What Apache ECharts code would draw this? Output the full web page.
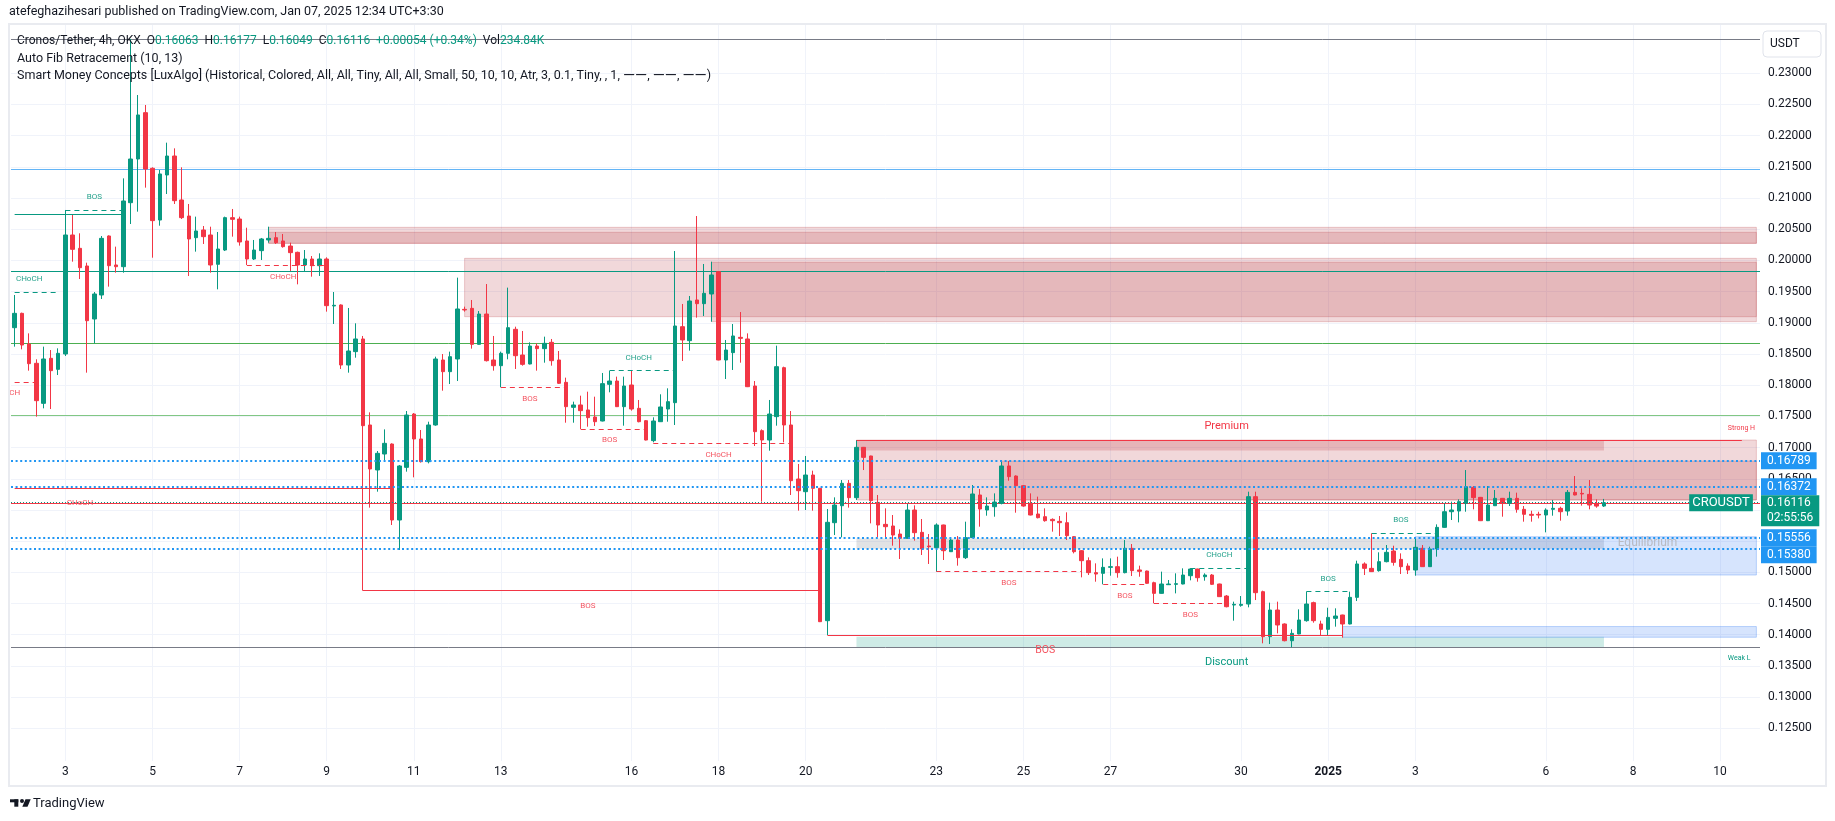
<!DOCTYPE html>
<html><head><meta charset="utf-8">
<script src="https://cdn.jsdelivr.net/npm/echarts@6/dist/echarts.min.js"></script>
<style>html,body{margin:0;padding:0;background:#fff}#c{width:1835px;height:821px}</style>
</head><body><div id="c"></div>
<script>
// ---------- DATA ----------
const open = [0.18922,0.19152,0.18660,0.18351,0.17709,0.18431,0.18254,0.18500,0.20408,0.20194,0.19911,0.19061,0.19446,0.20392,0.19927,0.19900,0.20926,0.21626,0.22369,0.21477,0.20648,0.21370,0.21674,0.20969,0.20712,0.20365,0.20488,0.20408,0.19938,0.20167,0.20686,0.20664,0.20312,0.20023,0.20157,0.20328,0.20365,0.20312,0.20231,0.20130,0.19927,0.20023,0.19916,0.20023,0.19270,0.19286,0.18324,0.18538,0.18741,0.17362,0.16641,0.16897,0.17057,0.15839,0.16683,0.17538,0.17138,0.16774,0.17362,0.18404,0.18217,0.18420,0.19216,0.19232,0.18655,0.19141,0.18404,0.18313,0.18511,0.18896,0.18484,0.18340,0.18628,0.18586,0.18687,0.18404,0.18046,0.17645,0.17683,0.17603,0.17490,0.17426,0.18014,0.18067,0.17656,0.18003,0.17629,0.17431,0.17111,0.17415,0.17618,0.17720,0.18938,0.18714,0.19366,0.19307,0.19462,0.19820,0.18404,0.18522,0.18767,0.18741,0.17987,0.17271,0.17121,0.17496,0.18281,0.17362,0.16496,0.16293,0.16560,0.16347,0.14225,0.15796,0.16068,0.16427,0.16197,0.17004,0.16865,0.16122,0.15769,0.15743,0.15614,0.15545,0.15999,0.15641,0.15422,0.15395,0.15759,0.15331,0.15518,0.15235,0.15556,0.16240,0.15999,0.16052,0.16106,0.16705,0.16544,0.16389,0.16106,0.15935,0.15892,0.15849,0.15817,0.15796,0.15572,0.15347,0.15187,0.14995,0.14984,0.15080,0.15091,0.14995,0.15385,0.15038,0.15021,0.14834,0.14663,0.14802,0.14808,0.14813,0.14946,0.15053,0.14930,0.14957,0.14813,0.14620,0.14476,0.14471,0.14492,0.16213,0.14690,0.13969,0.14396,0.14172,0.13904,0.14012,0.14225,0.14514,0.14172,0.14086,0.14262,0.14316,0.14172,0.14599,0.15134,0.15064,0.15027,0.15171,0.15342,0.15208,0.15101,0.15037,0.15385,0.15091,0.15374,0.15721,0.15972,0.15983,0.16106,0.16362,0.16202,0.15828,0.16068,0.16186,0.16106,0.16186,0.16010,0.15930,0.15930,0.15919,0.16010,0.16026,0.15983,0.16282,0.16266,0.16250,0.16095,0.16063];
const high = [0.19446,0.19163,0.18831,0.18415,0.18618,0.18564,0.18591,0.20809,0.20739,0.20435,0.19964,0.19494,0.20392,0.20402,0.20221,0.21316,0.23550,0.22652,0.22492,0.21493,0.21450,0.21888,0.21797,0.21493,0.20905,0.20702,0.20552,0.20541,0.20456,0.20702,0.20825,0.20702,0.20525,0.20328,0.20360,0.20541,0.20456,0.20424,0.20285,0.20141,0.20167,0.20071,0.20114,0.20050,0.19494,0.19296,0.19238,0.18992,0.18789,0.17565,0.16945,0.17292,0.17068,0.16720,0.17586,0.17554,0.17282,0.17415,0.18457,0.18500,0.18538,0.19724,0.19259,0.19366,0.19189,0.19622,0.18789,0.18538,0.19564,0.18938,0.18869,0.18687,0.18671,0.18778,0.18741,0.18548,0.18121,0.17736,0.17832,0.17896,0.17816,0.18196,0.18233,0.18137,0.18137,0.18233,0.17763,0.17442,0.17485,0.17854,0.17950,0.20151,0.19302,0.19430,0.20712,0.19943,0.19980,0.19825,0.18725,0.18981,0.19173,0.18831,0.18067,0.17292,0.17763,0.18634,0.18297,0.17586,0.16737,0.16865,0.16630,0.16352,0.16015,0.16202,0.16480,0.16480,0.17121,0.17010,0.16870,0.16240,0.16026,0.15919,0.15689,0.16095,0.16074,0.15855,0.15614,0.15785,0.15764,0.15545,0.15582,0.15812,0.16400,0.16336,0.16202,0.16266,0.16790,0.16785,0.16555,0.16400,0.16266,0.16213,0.16026,0.15865,0.15903,0.15962,0.15582,0.15358,0.15240,0.15144,0.15224,0.15224,0.15251,0.15518,0.15454,0.15107,0.15027,0.14850,0.15011,0.14877,0.14984,0.15064,0.15064,0.15058,0.14984,0.14973,0.14818,0.14636,0.14530,0.14620,0.16293,0.16293,0.14706,0.14514,0.14530,0.14182,0.14086,0.14407,0.14690,0.14530,0.14225,0.14433,0.14423,0.14321,0.14690,0.15187,0.15160,0.15625,0.15321,0.15438,0.15427,0.15304,0.15144,0.15561,0.15438,0.15411,0.15769,0.16106,0.16133,0.16170,0.16640,0.16384,0.16208,0.16384,0.16320,0.16192,0.16293,0.16277,0.16063,0.15988,0.15972,0.16026,0.16160,0.16052,0.16320,0.16544,0.16346,0.16480,0.16170,0.16177];
const low = [0.18618,0.18575,0.18233,0.17496,0.17629,0.17618,0.18163,0.18468,0.19980,0.19702,0.18201,0.18671,0.19382,0.19580,0.19804,0.19804,0.20584,0.20782,0.21167,0.20044,0.20557,0.21065,0.20905,0.20664,0.19751,0.20141,0.20264,0.19804,0.19537,0.20151,0.20381,0.20237,0.19927,0.20007,0.20007,0.20285,0.20264,0.20205,0.19831,0.19617,0.19831,0.19740,0.19751,0.19179,0.18981,0.18260,0.18201,0.18441,0.14706,0.16037,0.16293,0.16774,0.15759,0.15358,0.16614,0.16523,0.16760,0.16747,0.17350,0.17912,0.18019,0.18067,0.19179,0.18586,0.18650,0.18380,0.18233,0.17966,0.18415,0.18260,0.18313,0.18334,0.18233,0.18361,0.18313,0.18019,0.17399,0.17399,0.17298,0.17335,0.17346,0.17420,0.17886,0.17650,0.17351,0.17592,0.17405,0.17115,0.17084,0.17410,0.17415,0.17362,0.18388,0.18554,0.19083,0.19109,0.19018,0.18399,0.18099,0.18244,0.18361,0.17970,0.17025,0.16133,0.16950,0.17351,0.17084,0.16240,0.15989,0.15999,0.15989,0.14203,0.13995,0.15598,0.15561,0.16037,0.16160,0.16640,0.15785,0.15561,0.15545,0.15427,0.15214,0.15540,0.15508,0.15278,0.15134,0.15011,0.15198,0.15326,0.15107,0.15214,0.15550,0.15732,0.15908,0.15892,0.16090,0.16469,0.15956,0.16052,0.15913,0.15865,0.15812,0.15652,0.15582,0.15518,0.15304,0.14920,0.14957,0.14850,0.14808,0.14946,0.14914,0.14984,0.14941,0.14930,0.14813,0.14503,0.14658,0.14797,0.14663,0.14808,0.14872,0.14850,0.14866,0.14797,0.14605,0.14439,0.14225,0.14449,0.14439,0.14556,0.13862,0.13851,0.14022,0.13894,0.13798,0.14007,0.14209,0.14193,0.13995,0.13995,0.14129,0.13953,0.14166,0.14540,0.14957,0.15005,0.15011,0.15160,0.15107,0.14973,0.14973,0.14946,0.15086,0.15086,0.15251,0.15716,0.15839,0.15801,0.15972,0.16010,0.15822,0.15822,0.16063,0.15892,0.16063,0.15956,0.15812,0.15812,0.15865,0.15641,0.15908,0.15828,0.15908,0.16234,0.16069,0.16010,0.16036,0.16049];
const close = [0.19152,0.18644,0.18345,0.17752,0.18420,0.18233,0.18511,0.20408,0.20178,0.19884,0.19034,0.19462,0.20354,0.19916,0.19900,0.20953,0.21626,0.22332,0.21466,0.20638,0.21386,0.21674,0.20958,0.20686,0.20344,0.20472,0.20381,0.19927,0.20183,0.20686,0.20659,0.20296,0.20023,0.20167,0.20344,0.20354,0.20285,0.20221,0.20125,0.19927,0.20023,0.19916,0.20023,0.19275,0.19281,0.18324,0.18548,0.18741,0.17351,0.16657,0.16908,0.17068,0.15839,0.16705,0.17522,0.17138,0.16774,0.17362,0.18420,0.18217,0.18457,0.19222,0.19206,0.18655,0.19141,0.18393,0.18313,0.18511,0.18922,0.18473,0.18334,0.18628,0.18586,0.18671,0.18393,0.18030,0.17656,0.17683,0.17592,0.17480,0.17415,0.18025,0.18067,0.17656,0.17987,0.17618,0.17415,0.17121,0.17426,0.17651,0.17736,0.18949,0.18725,0.19350,0.19307,0.19473,0.19767,0.18404,0.18564,0.18789,0.18751,0.17976,0.17255,0.17121,0.17538,0.18297,0.17362,0.16469,0.16309,0.16560,0.16347,0.14209,0.15802,0.16079,0.16427,0.16197,0.17004,0.16843,0.16149,0.15759,0.15732,0.15598,0.15545,0.15999,0.15636,0.15374,0.15411,0.15759,0.15347,0.15518,0.15235,0.15556,0.16256,0.16015,0.16063,0.16127,0.16705,0.16534,0.16389,0.16063,0.15919,0.15876,0.15828,0.15828,0.15796,0.15588,0.15331,0.15187,0.14995,0.14973,0.15080,0.15091,0.14995,0.15385,0.15027,0.15016,0.14824,0.14663,0.14813,0.14813,0.14818,0.14957,0.15053,0.14914,0.14957,0.14808,0.14610,0.14449,0.14487,0.14487,0.16213,0.14674,0.13969,0.14396,0.14156,0.13904,0.14022,0.14236,0.14492,0.14225,0.14086,0.14278,0.14300,0.14172,0.14599,0.15134,0.15064,0.15011,0.15171,0.15321,0.15160,0.15091,0.15037,0.15401,0.15091,0.15374,0.15721,0.15972,0.15999,0.16133,0.16373,0.16197,0.15828,0.16079,0.16186,0.16106,0.16186,0.16010,0.15930,0.15914,0.15919,0.15999,0.16026,0.15972,0.16282,0.16240,0.16256,0.16079,0.16062,0.16116];
const lastVolume = '234.84K';

// time axis: 4h slots, first slot Dec 1 2024 20:00
const slotCount = 241;
const tickDates  = ['2024-12-03','2024-12-05','2024-12-07','2024-12-09','2024-12-11','2024-12-13','2024-12-16','2024-12-18','2024-12-20','2024-12-23','2024-12-25','2024-12-27','2024-12-30','2025-01-01','2025-01-03','2025-01-06','2025-01-08','2025-01-10'];
const tickLabels = ['3','5','7','9','11','13','16','18','20','23','25','27','30','2025','3','6','8','10'];
const yTicks = [0.125,0.130,0.135,0.140,0.145,0.150,0.155,0.160,0.165,0.170,0.175,0.180,0.185,0.190,0.195,0.200,0.205,0.210,0.215,0.220,0.225,0.230];
const Y_MIN = 0.119756, Y_MAX = 0.237903;

// Auto Fib Retracement
const fibLow = 0.1380, fibHigh = 0.2355;
const fibRatios = [0, 0.236, 0.382, 0.5, 0.618, 0.786, 1];
const fibColors = ['#787b86','#f23645','#81c784','#4caf50','#089981','#64b5f6','#787b86'];

// horizontal rays (blue dotted)
const rayPrices = [0.16789, 0.16372, 0.15556, 0.15380];

// SMC structure lines: [fromSlot, toSlot, price, side, style]
const structLines = [
  [7,15,0.20809,'bull','dash'],[0,15,0.20739,'bull','solid'],[0,6,0.19494,'bull','dash'],[0,3,0.18046,'bear','dash'],
  [32,43,0.19927,'bear','dash'],[0,52,0.16355,'bear','solid'],[67,76,0.17966,'bear','dash'],[78,87,0.17292,'bear','dash'],
  [82,91,0.18238,'bull','dash'],[88,107,0.17068,'bear','dash'],[48,111,0.14706,'bear','solid'],[127,147,0.15016,'bear','dash'],
  [150,156,0.14813,'bear','dash'],[157,167,0.14503,'bear','dash'],[162,170,0.15064,'bull','dash'],[112,183,0.13996,'bear','solid'],
  [178,184,0.14690,'bull','dash'],[187,196,0.15625,'bull','dash'],[116,238,0.17121,'bear','solid']
];
// structure labels: [slot, price, text, side, size]
const structLabels = [
  [11,0.21012,'BOS','bull','s'],[2,0.19698,'CHoCH','bull','s'],[0,0.17870,'CH','bear','s'],[37,0.19730,'CHoCH','bear','s'],
  [9,0.16109,'CHoCH','bear','s'],[71,0.17774,'BOS','bear','s'],[82,0.17117,'BOS','bear','s'],[86,0.18431,'CHoCH','bull','s'],
  [97,0.16876,'CHoCH','bear','s'],[79,0.14457,'BOS','bear','s'],[137,0.14824,'BOS','bear','s'],[153,0.14616,'BOS','bear','s'],
  [162,0.14311,'BOS','bear','s'],[166,0.15273,'CHoCH','bull','s'],[142,0.13744,'BOS','bear','m'],[181,0.14888,'BOS','bull','s'],
  [191,0.15833,'BOS','bull','s']
];
// zones: [fromSlot, toSlot, top, bottom, kind]
const zones = [
  [35,240,0.20531,0.20274,'bearOb'],[35,240,0.20451,0.20274,'bearOb'],
  [62,240,0.20034,0.19098,'bearOb'],[96,240,0.19970,0.19018,'bearOb'],
  [116,240,0.17121,0.16160,'bearOb'],[136,240,0.16785,0.16160,'bearOb'],
  [116,219,0.17121,0.16954,'premium'],[116,219,0.15543,0.15377,'equilibrium'],[116,219,0.13966,0.13800,'discount'],
  [193,240,0.15571,0.14957,'bullOb'],[183,240,0.14131,0.13959,'bullOb']
];
// zone labels: [slot, price, text, kind]
const zoneLabels = [
  [167,0.17346,'Premium','premium'],[225,0.15470,'Equilibrium','equilibrium'],[167,0.13556,'Discount','discount'],
  [236,0.17309,'Strong H','strongHigh'],[236,0.13622,'Weak L','weakLow']
];

// ---------- BUILD ----------
const FONT = 'Roboto, "Noto Sans", Arial, sans-serif';
const UP = '#089981', DOWN = '#f23645';
const pad = n => String(n).padStart(2,'0');
const categories = [];
const t0 = Date.UTC(2024, 11, 1, 20, 0);
for (let i = 0; i < slotCount; i++) {
  const d = new Date(t0 + i * 4 * 3600 * 1000);
  categories.push(d.getUTCFullYear() + '-' + pad(d.getUTCMonth()+1) + '-' + pad(d.getUTCDate()) + ' ' + pad(d.getUTCHours()) + ':00');
}
const tickMap = new Map();
tickDates.forEach((d, i) => tickMap.set(d + ' 00:00', tickLabels[i]));

const candleData = open.map((o, i) => [o, close[i], low[i], high[i]]);
const last = open.length - 1;
const lastPrice = close[last];

const sideColor = {bull: UP, bear: DOWN};
const labelColor = {bull: '#26a28c', bear: '#f45561'};
const zoneStyle = {
  bearOb: {color: 'rgba(178,40,51,0.18)', borderColor: 'rgba(178,40,51,0.22)', borderWidth: 1},
  premium: {color: 'rgba(190,40,51,0.2)', borderWidth: 0},
  equilibrium: {color: 'rgba(120,123,134,0.22)', borderWidth: 0},
  discount: {color: 'rgba(8,153,129,0.2)', borderWidth: 0},
  bullOb: {color: 'rgba(49,121,245,0.2)', borderColor: 'rgba(49,121,245,0.3)', borderWidth: 1}
};
const zoneLabelStyle = {
  premium: {color: '#f23645', fontSize: 11, pos: 'inside'},
  equilibrium: {color: '#b8bac2', fontSize: 12, pos: 'inside'},
  discount: {color: '#089981', fontSize: 11, pos: 'inside'},
  strongHigh: {color: '#f23645', fontSize: 7, pos: 'right'},
  weakLow: {color: '#089981', fontSize: 7, pos: 'right'}
};

const gridLines = [];
tickDates.forEach(d => gridLines.push({xAxis: d + ' 00:00'}));
yTicks.forEach(v => gridLines.push({yAxis: v, label: {show: true, position: 'end', distance: 8, formatter: v.toFixed(5), color: '#131722', fontSize: 12, fontFamily: FONT}}));

const fibLines = fibRatios.map((r, i) => ({yAxis: fibLow + r * (fibHigh - fibLow), lineStyle: {color: fibColors[i], width: 1, type: 'solid'}}));

const structData = structLines.map(s => [
  {xAxis: s[0], yAxis: s[2], lineStyle: {color: sideColor[s[3]], width: 1, type: s[4] === 'dash' ? [5, 4] : 'solid'}},
  {xAxis: s[1], yAxis: s[2]}
]);

const hidden = {color: 'rgba(0,0,0,0)'};
const labelPoints = structLabels.map(l => ({
  coord: [l[0], l[1]], symbol: 'circle', symbolSize: 1, itemStyle: hidden,
  label: {show: true, position: 'inside', formatter: l[2], color: labelColor[l[3]], fontSize: l[4] === 'm' ? 10.5 : 8, fontFamily: FONT}
})).concat(zoneLabels.map(l => {
  const st = zoneLabelStyle[l[3]];
  return {coord: [l[0], l[1]], symbol: 'circle', symbolSize: 1, itemStyle: hidden,
    label: {show: true, position: st.pos, distance: 0, formatter: l[2], color: st.color, fontSize: st.fontSize, fontFamily: FONT}};
}));

const zoneData = zones.map(z => [
  {xAxis: z[0], yAxis: z[2], itemStyle: zoneStyle[z[4]]},
  {xAxis: z[1], yAxis: z[3]}
]);

const boxLabel = (txt, bg, extra) => Object.assign({
  show: true, position: 'end', distance: 1, formatter: txt, color: '#ffffff', backgroundColor: bg,
  fontSize: 12, fontFamily: FONT, padding: [2, 6, 1, 6], lineHeight: 14
}, extra || {});
const rayData = rayPrices.map((p, i) => ({
  yAxis: p, lineStyle: {color: '#2196f3', width: 2, type: [2, 2.6]},
  label: boxLabel(p.toFixed(5), '#2196f3', i === 3 ? {offset: [0, 6]} : {})
}));
rayData.push({
  yAxis: lastPrice, lineStyle: {color: UP, width: 1, type: [1, 2]},
  label: boxLabel(lastPrice.toFixed(5) + '\n02:55:56', UP, {lineHeight: 15, padding: [1, 6, 0, 6], offset: [0, 8]})
});

const ML = (z, data, extra) => Object.assign({silent: true, z: z, precision: 10, symbol: ['none', 'none'], animation: false, label: {show: false}, emphasis: {disabled: true}, data: data}, extra || {});

const chart = echarts.init(document.getElementById('c'), null, {renderer: 'canvas'});
const lg = (k, v) => `{d|${k}}{v|${v}}`;
const chg = close[last] - close[last - 1];
const legendText = `{d|Cronos/Tether, 4h, OKX}  ${lg('O', open[last].toFixed(5))}  ${lg('H', high[last].toFixed(5))}  ${lg('L', low[last].toFixed(5))}  ${lg('C', close[last].toFixed(5))}  {v|${(chg >= 0 ? '+' : '') + chg.toFixed(5)} (${(chg >= 0 ? '+' : '') + (chg / close[last - 1] * 100).toFixed(2)}%)}  ${lg('Vol', lastVolume)}`;
const DASH = '{w|\u2014\u2014}';

chart.setOption({
  animation: false,
  backgroundColor: '#ffffff',
  grid: {left: 11, right: 75, top: 24, bottom: 60, containLabel: false},
  xAxis: {
    type: 'category', data: categories, boundaryGap: true,
    axisLine: {show: false}, axisTick: {show: false}, splitLine: {show: false},
    axisLabel: {
      interval: (i, v) => tickMap.has(v),
      formatter: v => { const t = tickMap.get(v) || ''; return t === '2025' ? '{y|2025}' : t; },
      color: '#131722', fontSize: 12, margin: 5, fontFamily: FONT,
      rich: {y: {fontWeight: 'bold', fontSize: 12, color: '#131722', fontFamily: FONT}}
    }
  },
  yAxis: {
    type: 'value', min: Y_MIN, max: Y_MAX, position: 'right',
    axisLine: {show: false}, axisTick: {show: false}, axisLabel: {show: false}, splitLine: {show: false}
  },
  series: [
    {type: 'line', data: [], z: 0, silent: true,
      markLine: ML(0, gridLines, {lineStyle: {color: '#f0f3fa', width: 1, type: 'solid'}})},
    {type: 'line', data: [], z: 1, silent: true,
      markArea: {silent: true, z: 1, animation: false, emphasis: {disabled: true}, data: zoneData}},
    {type: 'line', data: [], z: 2, silent: true,
      markLine: ML(2, fibLines)},
    {type: 'candlestick', data: candleData, z: 3, barWidth: 4, silent: true,
      itemStyle: {color: UP, color0: DOWN, borderColor: UP, borderColor0: DOWN, borderWidth: 1}},
    {type: 'line', data: [], z: 4, silent: true,
      markLine: ML(4, structData)},
    {type: 'line', data: [], z: 5, silent: true,
      markPoint: {silent: true, z: 5, animation: false, data: labelPoints}},
    {type: 'line', data: [], z: 10, silent: true,
      markLine: ML(10, rayData),
      markPoint: {silent: true, z: 11, animation: false, data: [{
        coord: [slotCount - 1, lastPrice], symbol: 'circle', symbolSize: 1, itemStyle: hidden,
        label: {show: true, position: 'left', distance: 3, formatter: 'CROUSDT', color: '#ffffff', backgroundColor: UP, fontSize: 13, fontFamily: FONT, padding: [2, 3, 1, 3], lineHeight: 14}
      }]}}
  ],
  graphic: [
    {type: 'rect', silent: true, z: 100, shape: {x: 9, y: 24, width: 1817, height: 762}, style: {fill: 'none', stroke: '#e9ebf0', lineWidth: 2}},
    {type: 'text', silent: true, z: 100, x: 9, y: 12, style: {text: 'atefeghazihesari published on TradingView.com, Jan 07, 2025 12:34 UTC+3:30', fontSize: 12.5, fontFamily: FONT, fill: '#131722', align: 'left', verticalAlign: 'middle', textAlign: 'left', textVerticalAlign: 'middle'}},
    {type: 'text', silent: true, z: 100, x: 17, y: 41, style: {text: legendText, fontSize: 12, fontFamily: FONT, fill: '#131722', align: 'left', verticalAlign: 'middle', textAlign: 'left', textVerticalAlign: 'middle',
      rich: {d: {fill: '#131722', color: '#131722', fontSize: 12, fontFamily: FONT}, v: {fill: UP, color: UP, fontSize: 12, fontFamily: FONT}}}},
    {type: 'text', silent: true, z: 100, x: 17, y: 58.5, style: {text: 'Auto Fib Retracement (10, 13)', fontSize: 12.5, fontFamily: FONT, fill: '#131722', align: 'left', verticalAlign: 'middle', textAlign: 'left', textVerticalAlign: 'middle'}},
    {type: 'text', silent: true, z: 100, x: 17, y: 76, style: {text: '{t|Smart Money Concepts [LuxAlgo] (Historical, Colored, All, All, Tiny, All, All, Small, 50, 10, 10, Atr, 3, 0.1, Tiny, , 1, }' + DASH + '{t|, }' + DASH + '{t|, }' + DASH + '{t|)}', fontSize: 12.5, fontFamily: FONT, fill: '#131722', align: 'left', verticalAlign: 'middle', textAlign: 'left', textVerticalAlign: 'middle',
      rich: {t: {fontSize: 12.5, fontFamily: FONT, fill: '#131722'}, w: {fontSize: 15.5, fontFamily: FONT, fill: '#131722'}}}},
    {type: 'rect', silent: true, z: 100, shape: {x: 1763, y: 31, width: 58, height: 26, r: 4}, style: {fill: '#ffffff', stroke: '#e0e3eb', lineWidth: 1}},
    {type: 'text', silent: true, z: 101, x: 1770, y: 44, style: {text: 'USDT', fontSize: 12, fontFamily: FONT, fill: '#131722', align: 'left', verticalAlign: 'middle', textAlign: 'left', textVerticalAlign: 'middle'}},
    {type: 'rect', silent: true, z: 100, shape: {x: 10, y: 799.3, width: 8.3, height: 3}, style: {fill: '#131722'}},
    {type: 'rect', silent: true, z: 100, shape: {x: 14.3, y: 799.3, width: 4, height: 7.4}, style: {fill: '#131722'}},
    {type: 'circle', silent: true, z: 100, shape: {cx: 22, cy: 801, r: 2}, style: {fill: '#131722'}},
    {type: 'polygon', silent: true, z: 100, shape: {points: [[25.5, 799.3], [30.7, 799.3], [27.5, 806.7], [22.3, 806.7]]}, style: {fill: '#131722'}},
    {type: 'text', silent: true, z: 100, x: 33, y: 803.3, style: {text: 'TradingView', fontSize: 13, fontFamily: FONT, fill: '#131722', align: 'left', verticalAlign: 'middle', textAlign: 'left', textVerticalAlign: 'middle'}}
  ]
});
</script></body></html>
